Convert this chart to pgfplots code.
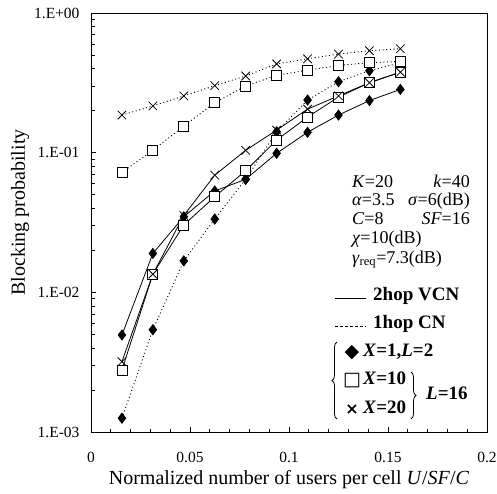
\documentclass[border=0pt]{standalone}
\usepackage{pgfplots}
\pgfplotsset{compat=1.18}
\usepackage{fontspec}
\setmainfont{Liberation Serif}
\newfontfamily\symfont{DejaVu Sans}
\usetikzlibrary{decorations.pathreplacing}

\pgfplotsset{
  vcn/.style={black, line width=0.8pt, solid},
  hop/.style={black, line width=0.9pt, dash pattern=on 1pt off 2.6pt},
  mdia/.style={mark=diamond*, mark size=5pt, mark options={solid, fill=black, draw=black}},
  msq/.style={mark=square*, mark size=5pt, mark options={solid, fill=white, draw=black, line width=0.8pt}},
  mx/.style={mark=x, mark size=6pt, mark options={solid, line width=0.8pt}},
}

\begin{document}
\begin{tikzpicture}
\useasboundingbox (-91pt,-61pt) rectangle (406pt,432pt);
\begin{axis}[
  at={(0pt,0pt)}, anchor=south west,
  scale only axis, width=396pt, height=419pt,
  ymode=log,
  xmin=0, xmax=0.2, ymin=1e-3, ymax=1,
  xtick={0,0.05,0.1,0.15,0.2}, xticklabels={0,0.05,0.1,0.15,0.2},
  minor x tick num=4,
  ytick={1e-3,1e-2,1e-1,1}, yticklabels={1.E-03,1.E-02,1.E-01,1.E+00},
  tick align=inside, tick pos=left,
  major tick length=5pt, minor tick length=3.5pt,
  axis line style={line width=0.8pt},
  every tick/.style={line width=0.7pt, black},
  ticklabel style={font=\fontsize{15.5}{18}\selectfont},
  xticklabel style={yshift=-17pt},
  yticklabel style={xshift=-8pt},
  xlabel={Normalized number of users per cell \textit{U}/\textit{SF}/\textit{C}},
  ylabel={Blocking probability},
  label style={font=\fontsize{20}{24}\selectfont},
  xlabel style={at={(axis description cs:0.5,-0.1146)}, anchor=center},
  ylabel style={at={(axis description cs:-0.1793,0.524)}, anchor=center},
]
% 2hop VCN, X=1, L=2
\addplot[vcn, mdia] coordinates {
(0.015625,4.95e-3) (0.03125,0.019) (0.046875,0.0348) (0.0625,0.0532) (0.078125,0.0645)
(0.09375,0.099) (0.109375,0.14) (0.125,0.186) (0.140625,0.236) (0.15625,0.284)};
% 1hop CN, X=1, L=2
\addplot[hop, mdia] coordinates {
(0.015625,1.256e-3) (0.03125,5.4e-3) (0.046875,0.0168) (0.0625,0.0335) (0.078125,0.0645)
(0.09375,0.141) (0.109375,0.238) (0.125,0.322) (0.140625,0.386) (0.15625,0.44)};
% 2hop VCN, X=10
\addplot[vcn, msq] coordinates {
(0.015625,2.78e-3) (0.03125,0.0135) (0.046875,0.0304) (0.0625,0.0484) (0.078125,0.0743)
(0.09375,0.123) (0.109375,0.18) (0.125,0.25) (0.140625,0.317) (0.15625,0.377)};
% 1hop CN, X=10
\addplot[hop, msq] coordinates {
(0.015625,0.0723) (0.03125,0.104) (0.046875,0.155) (0.0625,0.228) (0.078125,0.30)
(0.09375,0.358) (0.109375,0.39) (0.125,0.421) (0.140625,0.441) (0.15625,0.45)};
% 2hop VCN, X=20
\addplot[vcn, mx] coordinates {
(0.015625,3.19e-3) (0.03125,0.0135) (0.046875,0.0355) (0.0625,0.069) (0.078125,0.104)
(0.09375,0.145) (0.109375,0.205) (0.125,0.255) (0.140625,0.317) (0.15625,0.377)};
% 1hop CN, X=20
\addplot[hop, mx] coordinates {
(0.015625,0.186) (0.03125,0.216) (0.046875,0.255) (0.0625,0.302) (0.078125,0.354)
(0.09375,0.432) (0.109375,0.47) (0.125,0.508) (0.140625,0.537) (0.15625,0.555)};
\end{axis}

% parameter block
\begin{scope}[every node/.style={inner sep=0pt, font=\fontsize{18}{21}\selectfont}]
\node[anchor=mid west] at (261pt,247pt) {\textit{K}=20};
\node[anchor=mid east] at (379pt,247pt) {\textit{k}=40};
\node[anchor=mid west] at (261pt,229pt) {\textit{α}=3.5};
\node[anchor=mid east] at (379pt,229pt) {\textit{σ}=6(dB)};
\node[anchor=mid west] at (261pt,210pt) {\textit{C}=8};
\node[anchor=mid east] at (379pt,210pt) {\textit{SF}=16};
\node[anchor=mid west] at (261pt,191pt) {\textit{χ}=10(dB)};
\node[anchor=mid west] at (261pt,171pt) {\textit{γ}\textsubscript{req}=7.3(dB)};
\end{scope}

% legend
\begin{scope}[every node/.style={inner sep=0pt, font=\fontsize{19}{22}\selectfont\bfseries}]
\draw[line width=0.8pt] (244pt,134pt) -- (275pt,134pt);
\node[anchor=mid west] at (282pt,134pt) {2hop VCN};
\draw[line width=0.8pt, dash pattern=on 3pt off 2pt] (244pt,106pt) -- (275pt,106pt);
\node[anchor=mid west] at (282pt,106pt) {1hop CN};
\draw[decorate, decoration={brace, amplitude=5pt}, line width=0.8pt] (246pt,13pt) -- (246pt,90pt);
\node[font=\symfont\fontsize{19}{19}\selectfont] at (261pt,79pt) {◆};
\node[anchor=mid west] at (272pt,78pt) {\textit{X}=1,\textit{L}=2};
\node[font=\symfont\fontsize{19}{19}\selectfont] at (261pt,51pt) {□};
\node[anchor=mid west] at (272pt,50pt) {\textit{X}=10};
\node[font=\symfont\fontsize{16}{16}\selectfont\bfseries] at (261pt,22pt) {×};
\node[anchor=mid west] at (272pt,21pt) {\textit{X}=20};
\draw[decorate, decoration={brace, amplitude=5pt}, line width=0.8pt] (320pt,60pt) -- (320pt,13pt);
\node[anchor=mid west] at (335pt,35pt) {\textit{L}=16};
\end{scope}
\end{tikzpicture}
\end{document}
